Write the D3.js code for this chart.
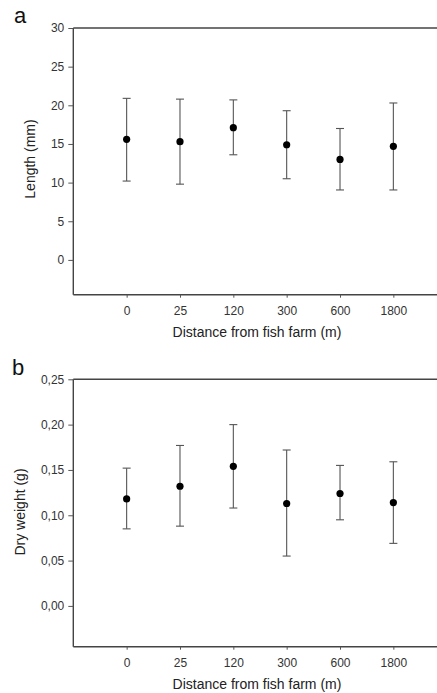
<!DOCTYPE html>
<html><head><meta charset="utf-8">
<script src="https://cdn.jsdelivr.net/npm/d3@7"></script>
<style>
html,body{margin:0;padding:0;background:#fff;}
svg{display:block;font-family:"Liberation Sans",Arial,sans-serif;}
</style></head>
<body>
<svg id="chart" width="437" height="693"></svg>
<script>
// Data
const distances = ["0", "25", "120", "300", "600", "1800"];
const lengthMean = [15.6, 15.3, 17.1, 14.9, 13.0, 14.7];
const lengthUpper = [20.9, 20.8, 20.7, 19.3, 17.0, 20.3];
const lengthLower = [10.2, 9.8, 13.6, 10.5, 9.05, 9.05];
const lengthTicks = [0, 5, 10, 15, 20, 25, 30];

const weightMean = [0.118, 0.132, 0.154, 0.113, 0.124, 0.114];
const weightUpper = [0.152, 0.177, 0.200, 0.172, 0.155, 0.159];
const weightLower = [0.085, 0.088, 0.108, 0.055, 0.095, 0.069];
const weightTicks = [0.00, 0.05, 0.10, 0.15, 0.20, 0.25];

const svg = d3.select("#chart");

function panel(opts) {
  const {letter, letterX, letterY, top, bottom, domain, ticks, fmt, mean, upper, lower, ytitle, ytitleX, ytitleY} = opts;
  const left = 73.3, right = 446.7;
  const x = d3.scalePoint().domain(distances).range([left, right]).padding(1);
  const y = d3.scaleLinear().domain(domain).range([bottom, top]);
  const g = svg.append("g");

  // panel letter
  g.append("text").attr("x", letterX).attr("y", letterY).attr("font-size", 22).attr("fill", "#111").text(letter);

  // top border
  g.append("line").attr("x1", left).attr("x2", right).attr("y1", top).attr("y2", top)
    .attr("stroke", "#444").attr("stroke-width", 1.4);

  // y axis
  const ya = g.append("g").attr("transform", `translate(${left},0)`)
    .call(d3.axisLeft(y).tickValues(ticks).tickFormat(fmt).tickSize(5).tickPadding(4).tickSizeOuter(0));
  ya.select(".domain").attr("stroke", "#444").attr("stroke-width", 1.4).attr("d", `M0,${top}V${bottom}`);
  ya.selectAll(".tick line").attr("stroke", "#555");
  ya.selectAll(".tick text").attr("font-size", 12).attr("fill", "#333").attr("font-family", "Liberation Sans, Arial, sans-serif");

  // x axis
  const xa = g.append("g").attr("transform", `translate(0,${bottom})`)
    .call(d3.axisBottom(x).tickSize(3).tickPadding(9).tickSizeOuter(0));
  xa.select(".domain").attr("stroke", "#444").attr("stroke-width", 1.4).attr("d", `M${left},0H${right}`);
  xa.selectAll(".tick line").attr("stroke", "#555");
  xa.selectAll(".tick text").attr("font-size", 12).attr("fill", "#333").attr("font-family", "Liberation Sans, Arial, sans-serif");

  // axis titles
  g.append("text").attr("x", 257).attr("y", bottom + 42).attr("text-anchor", "middle")
    .attr("font-size", 14).attr("fill", "#222").text("Distance from fish farm (m)");
  g.append("text").attr("transform", `translate(${ytitleX},${ytitleY}) rotate(-90)`).attr("text-anchor", "middle")
    .attr("font-size", 14).attr("fill", "#222").text(ytitle);

  // error bars
  const cap = 4;
  const eb = g.append("g").attr("stroke", "#555").attr("stroke-width", 1.1);
  distances.forEach((d, i) => {
    const cx = x(d);
    eb.append("line").attr("x1", cx).attr("x2", cx).attr("y1", y(upper[i])).attr("y2", y(lower[i]));
    eb.append("line").attr("x1", cx - cap).attr("x2", cx + cap).attr("y1", y(upper[i])).attr("y2", y(upper[i]));
    eb.append("line").attr("x1", cx - cap).attr("x2", cx + cap).attr("y1", y(lower[i])).attr("y2", y(lower[i]));
  });

  // points
  g.append("g").selectAll("circle").data(distances).join("circle")
    .attr("cx", d => x(d)).attr("cy", (d, i) => y(mean[i])).attr("r", 3.6).attr("fill", "#000");
}

panel({letter: "a", letterX: 14, letterY: 23, top: 28, bottom: 294.7, domain: [-4.5, 30], ticks: lengthTicks,
  fmt: d3.format("d"), mean: lengthMean, upper: lengthUpper, lower: lengthLower,
  ytitle: "Length (mm)", ytitleX: 35, ytitleY: 159});

panel({letter: "b", letterX: 12, letterY: 375, top: 379.3, bottom: 646.7, domain: [-0.045, 0.25], ticks: weightTicks,
  fmt: v => d3.format(".2f")(v).replace(".", ","), mean: weightMean, upper: weightUpper, lower: weightLower,
  ytitle: "Dry weight (g)", ytitleX: 25, ytitleY: 512});
</script>
</body></html>
